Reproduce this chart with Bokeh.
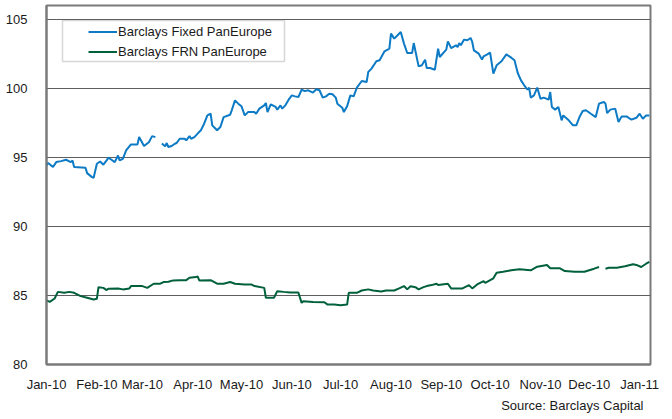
import datetime as dt
import numpy as np
import pandas as pd
from bokeh.plotting import figure
from bokeh.models import (Range1d, FixedTicker, DatetimeTickFormatter, Legend,
                          LegendItem, BoxAnnotation, Title)
from bokeh.embed import file_html
from bokeh.resources import INLINE

nan = float("nan")

# ---------------- data ----------------
fixed_dates = [
    "2010-01-01", "2010-01-02", "2010-01-05", "2010-01-07", "2010-01-10", "2010-01-13", "2010-01-16",
    "2010-01-17", "2010-01-18", "2010-01-25", "2010-01-26", "2010-01-29", "2010-01-30",
    "2010-02-01", "2010-02-03", "2010-02-05", "2010-02-07", "2010-02-08", "2010-02-10", "2010-02-12",
    "2010-02-14", "2010-02-15", "2010-02-17", "2010-02-19", "2010-02-22", "2010-02-26", "2010-02-27",
    "2010-03-02", "2010-03-05", "2010-03-07", "2010-03-09", "2010-03-11", "2010-03-13", "2010-03-15",
    "2010-03-16", "2010-03-17", "2010-03-19", "2010-03-21", "2010-03-22", "2010-03-24", "2010-03-27",
    "2010-03-28", "2010-03-30", "2010-03-31",
    "2010-04-02", "2010-04-04", "2010-04-06", "2010-04-08", "2010-04-10", "2010-04-12", "2010-04-13",
    "2010-04-16", "2010-04-18", "2010-04-20", "2010-04-24", "2010-04-25", "2010-04-27", "2010-04-29",
    "2010-05-01", "2010-05-03", "2010-05-05", "2010-05-09", "2010-05-10", "2010-05-12", "2010-05-15",
    "2010-05-16", "2010-05-17", "2010-05-19", "2010-05-22", "2010-05-23", "2010-05-25", "2010-05-26",
    "2010-05-28", "2010-05-30",
    "2010-06-01", "2010-06-03", "2010-06-05", "2010-06-07", "2010-06-09", "2010-06-11", "2010-06-14",
    "2010-06-16", "2010-06-18", "2010-06-20", "2010-06-22", "2010-06-24", "2010-06-26", "2010-06-28",
    "2010-06-29",
    "2010-07-02", "2010-07-03", "2010-07-05", "2010-07-07", "2010-07-09", "2010-07-11", "2010-07-14",
    "2010-07-17", "2010-07-18", "2010-07-20", "2010-07-23", "2010-07-25", "2010-07-28", "2010-07-31",
    "2010-08-01", "2010-08-03", "2010-08-07", "2010-08-09", "2010-08-11", "2010-08-14", "2010-08-15",
    "2010-08-18", "2010-08-20", "2010-08-22", "2010-08-23", "2010-08-25", "2010-08-28", "2010-08-30",
    "2010-08-31",
    "2010-09-04", "2010-09-05", "2010-09-07", "2010-09-10", "2010-09-11", "2010-09-12", "2010-09-13",
    "2010-09-15", "2010-09-17", "2010-09-19", "2010-09-20", "2010-09-21", "2010-09-24", "2010-09-26",
    "2010-09-27", "2010-09-29",
    "2010-10-01", "2010-10-03", "2010-10-05", "2010-10-08", "2010-10-11", "2010-10-14", "2010-10-16",
    "2010-10-18", "2010-10-20", "2010-10-22", "2010-10-24", "2010-10-25", "2010-10-26", "2010-10-28",
    "2010-10-30",
    "2010-11-01", "2010-11-03", "2010-11-06", "2010-11-07", "2010-11-08", "2010-11-10", "2010-11-12",
    "2010-11-14", "2010-11-15", "2010-11-18", "2010-11-21", "2010-11-23", "2010-11-25", "2010-11-27",
    "2010-11-29",
    "2010-12-02", "2010-12-05", "2010-12-07", "2010-12-10", "2010-12-11", "2010-12-12", "2010-12-14",
    "2010-12-17", "2010-12-19", "2010-12-21", "2010-12-24", "2010-12-26", "2010-12-27", "2010-12-30",
    "2011-01-01", "2011-01-03", "2011-01-05", "2011-01-07",
]
fixed_values = [
    94.42, 94.6, 94.3, 94.66, 94.73, 94.83, 94.66, 94.78, 94.3, 94.25, 93.86, 93.57, 93.53,
    94.54, 94.7, 94.47, 94.78, 94.98, 94.83, 94.66, 95.14, 94.78, 94.9, 95.5, 95.94, 95.94, 96.47,
    95.82, 96.1, 96.54, 96.47, nan, 96.0, 95.8, 96.04, 95.75, 95.82, 95.99, 96.04, 96.35, 96.35,
    96.23, 96.54, 96.35,
    96.47, 96.72, 96.96, 97.44, 98.04, 98.16, 97.32, 96.96, 97.2, 97.92, 98.09, 98.41, 99.13, 98.89,
    98.7, 98.04, 98.28, 98.28, 98.16, 98.53, 98.77, 98.94, 98.28, 98.84, 98.65, 98.46, 98.77, 98.53,
    98.77, 99.18,
    99.49, 99.42, 99.37, 99.9, 99.8, 99.86, 99.69, 99.93, 99.86, 99.33, 99.42, 99.61, 99.57, 99.33,
    98.89,
    98.6, 98.28, 98.7, 99.49, 99.42, 100.05, 100.53, 100.46, 101.18, 101.43, 101.96, 102.03, 102.68,
    102.87,
    103.96, 103.6, 104.08, 103.24, 102.56, 102.56, 103.28, 101.59, 101.67, 102.08, 101.47, 101.47,
    101.35, 102.87, 102.27,
    102.8, 103.4, 102.92, 103.12, 102.99, 103.28, 103.12, 103.53, 103.48, 103.65, 103.36, 102.75,
    102.51, 102.08, 102.32, 102.44,
    102.58, 101.06, 101.67, 101.96, 102.46, 102.22, 102.03, 101.11, 100.58, 100.22, 99.9, 100.05,
    99.33, 99.49, 100.05,
    99.25, 99.33, 99.18, 99.73, 98.65, 98.46, 98.65, 97.68, 98.04, 97.73, 97.32, 97.32, 97.92,
    98.36, 98.41,
    98.16, 97.92, 98.89, 99.01, 98.89, 98.21, 98.46, 98.53, 97.56, 97.97, 97.97, 97.8, 97.73, 97.87,
    98.16, 97.8, 98.04, 98.04,
]

frn_dates = [
    "2010-01-01", "2010-01-03", "2010-01-06", "2010-01-08", "2010-01-12", "2010-01-15", "2010-01-18",
    "2010-01-22", "2010-01-26", "2010-01-30",
    "2010-02-01", "2010-02-02", "2010-02-05", "2010-02-07", "2010-02-08", "2010-02-14", "2010-02-17",
    "2010-02-21", "2010-02-22",
    "2010-03-01", "2010-03-04", "2010-03-08", "2010-03-12", "2010-03-14", "2010-03-17", "2010-03-20",
    "2010-03-24", "2010-03-28", "2010-03-30",
    "2010-04-03", "2010-04-04", "2010-04-05", "2010-04-12", "2010-04-16", "2010-04-20", "2010-04-24",
    "2010-04-27",
    "2010-05-03", "2010-05-07", "2010-05-09", "2010-05-15", "2010-05-16", "2010-05-21", "2010-05-23",
    "2010-05-27", "2010-05-31",
    "2010-06-05", "2010-06-07", "2010-06-08", "2010-06-14", "2010-06-21", "2010-06-23", "2010-06-27",
    "2010-07-01", "2010-07-05", "2010-07-06", "2010-07-11", "2010-07-14", "2010-07-18", "2010-07-21",
    "2010-07-26", "2010-07-29",
    "2010-08-03", "2010-08-06", "2010-08-09", "2010-08-11", "2010-08-13", "2010-08-16", "2010-08-18",
    "2010-08-21", "2010-08-23", "2010-08-26", "2010-08-29", "2010-08-30",
    "2010-09-05", "2010-09-07", "2010-09-14", "2010-09-18", "2010-09-20", "2010-09-23", "2010-09-27",
    "2010-09-28",
    "2010-10-03", "2010-10-05", "2010-10-09", "2010-10-14", "2010-10-19", "2010-10-26", "2010-10-30",
    "2010-11-05", "2010-11-07", "2010-11-13", "2010-11-16", "2010-11-22", "2010-11-28",
    "2010-12-04", "2010-12-07", "2010-12-09", "2010-12-11", "2010-12-13", "2010-12-18", "2010-12-23",
    "2010-12-28", "2010-12-30",
    "2011-01-02", "2011-01-05", "2011-01-07",
]
frn_values = [
    84.64, 84.54, 84.78, 85.26, 85.19, 85.26, 85.19, 84.95, 84.83, 84.71,
    84.76, 85.6, 85.55, 85.39, 85.48, 85.51, 85.44, 85.51, 85.68,
    85.68, 85.55, 85.85, 85.85, 85.97, 85.99, 86.09, 86.11, 86.11, 86.28,
    86.33, 86.38, 86.09, 86.11, 85.85, 85.85, 85.97, 85.85,
    85.8, 85.8, 85.68, 85.55, 84.83, 84.83, 85.31, 85.26, 85.22,
    85.22, 84.46, 84.58, 84.53, 84.51, 84.34, 84.34,
    84.29, 84.34, 85.19, 85.19, 85.36, 85.44, 85.36, 85.29, 85.36,
    85.36, 85.51, 85.68, 85.44, 85.66, 85.6, 85.44, 85.6, 85.68, 85.75, 85.85, 85.75,
    85.85, 85.51, 85.51, 85.75, 85.51, 85.8, 86.04, 85.92,
    86.24, 86.65, 86.72, 86.82, 86.89, 86.82, 87.08,
    87.21, 86.97, 86.97, 86.77, 86.72, 86.72,
    86.94, 87.06, nan, 86.94, 87.01, 87.01, 87.11, 87.26, 87.21,
    87.06, 87.3, 87.43,
]

series_names = ["Barclays Fixed PanEurope", "Barclays FRN PanEurope"]
series_colors = ["#0C7AC4", "#00603C"]
y_ticks = [80, 85, 90, 95, 100, 105]
month_ticks = pd.date_range("2010-01-01", "2011-01-01", freq="MS")
source_text = "Source: Barclays Capital"

# ---------------- figure ----------------
FONT = "Liberation Sans"
x_start = dt.datetime(2010, 1, 1)
x_end = x_start + dt.timedelta(days=371.7)

p = figure(width=660, height=416, x_axis_type="datetime",
           x_range=Range1d(x_start, x_end), y_range=Range1d(80, 106.0),
           output_backend="svg", toolbar_location=None,
           min_border_left=46, min_border_right=10, min_border_top=5, min_border_bottom=52)

p.background_fill_color = "white"
p.border_fill_color = "white"
p.outline_line_color = "#7a7a7a"
p.outline_line_width = 2

r1 = p.line(pd.to_datetime(fixed_dates), np.array(fixed_values),
            line_color=series_colors[0], line_width=2)
r2 = p.line(pd.to_datetime(frn_dates), np.array(frn_values),
            line_color=series_colors[1], line_width=2)

# axes
p.xaxis.ticker = FixedTicker(ticks=[t.value // 10**6 for t in month_ticks])
fmt = "%b-%y"
p.xaxis.formatter = DatetimeTickFormatter(
    milliseconds=fmt, seconds=fmt, minsec=fmt, minutes=fmt, hourmin=fmt, hours=fmt,
    days=fmt, months=fmt, years=fmt)
p.yaxis.ticker = FixedTicker(ticks=y_ticks)
for ax in (p.xaxis, p.yaxis):
    ax.major_tick_line_color = None
    ax.minor_tick_line_color = None
    ax.axis_line_color = "#7a7a7a"
    ax.axis_line_width = 2
    ax.major_label_text_font = FONT
    ax.major_label_text_font_size = "13px"
    ax.major_label_text_color = "#1a1a1a"
p.xaxis.major_label_standoff = 6
p.yaxis.major_label_standoff = 13

p.xgrid.grid_line_color = None
p.ygrid.grid_line_color = "#5e5e5e"
p.ygrid.grid_line_width = 1

# legend frame
box = BoxAnnotation(left=16, right=238, bottom=303, top=344,
                    left_units="screen", right_units="screen",
                    bottom_units="screen", top_units="screen",
                    fill_color="white", fill_alpha=1.0,
                    line_color="#7a7a7a", line_width=1.5, level="overlay")
p.add_layout(box)

legend = Legend(items=[LegendItem(label=series_names[0], renderers=[r1]),
                       LegendItem(label=series_names[1], renderers=[r2])],
                location=(42, 305), padding=0, spacing=5, margin=0,
                glyph_width=29, glyph_height=15, label_height=15, label_standoff=1,
                label_text_font=FONT, label_text_font_size="13px",
                label_text_color="#1a1a1a",
                border_line_alpha=0, background_fill_alpha=0)
p.add_layout(legend)

src = Title(text=source_text, align="right", offset=7, standoff=2,
            text_font=FONT, text_font_size="13px", text_font_style="normal",
            text_color="#1a1a1a")
p.add_layout(src, "below")

open("out.html", "w").write(file_html(p, INLINE))
